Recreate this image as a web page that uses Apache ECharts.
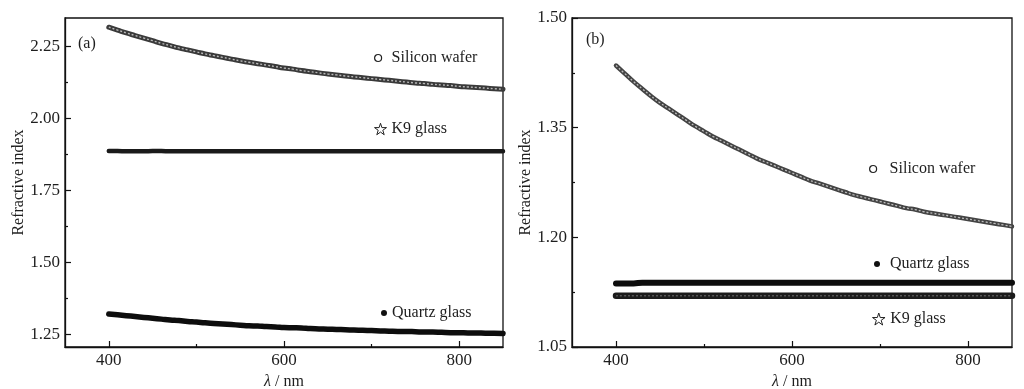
<!DOCTYPE html>
<html>
<head>
<meta charset="utf-8">
<script src="https://cdn.jsdelivr.net/npm/echarts@6/dist/echarts.min.js"></script>
<style>
html,body{margin:0;padding:0;background:#fff;}
#chart{width:1024px;height:389px;}
</style>
</head>
<body>
<div id="chart"></div>
<script>
// ---- data ----
const wavelength = [400,410,420,430,440,450,460,470,480,490,
  500,510,520,530,540,550,560,570,580,590,
  600,610,620,630,640,650,660,670,680,690,
  700,710,720,730,740,750,760,770,780,790,
  800,810,820,830,840,850];

// panel (a)
const siliconA = [2.318,2.308,2.298,2.289,2.280,2.271,2.262,2.254,2.246,2.239,
  2.232,2.225,2.219,2.213,2.207,2.201,2.196,2.191,2.186,2.181,
  2.176,2.172,2.167,2.163,2.159,2.155,2.152,2.148,2.145,2.142,
  2.139,2.136,2.133,2.130,2.127,2.124,2.122,2.119,2.117,2.115,
  2.112,2.110,2.108,2.106,2.104,2.102];
const k9A = [1.887,1.887,1.886,1.886,1.886,1.887,1.887,1.886,1.886,1.886,
  1.886,1.886,1.886,1.886,1.886,1.886,1.886,1.886,1.886,1.886,
  1.886,1.886,1.886,1.886,1.886,1.886,1.886,1.886,1.886,1.886,
  1.886,1.886,1.886,1.886,1.886,1.886,1.886,1.886,1.886,1.886,
  1.886,1.886,1.886,1.886,1.886,1.886];
const quartzA = [1.320,1.317,1.314,1.311,1.308,1.305,1.302,1.299,1.297,1.294,
  1.292,1.289,1.287,1.285,1.283,1.281,1.279,1.278,1.276,1.275,
  1.273,1.272,1.271,1.269,1.268,1.267,1.266,1.265,1.264,1.263,
  1.262,1.261,1.260,1.259,1.259,1.258,1.257,1.257,1.256,1.255,
  1.255,1.254,1.254,1.253,1.253,1.252];

// panel (b)
const siliconB = [1.435,1.424,1.413,1.403,1.393,1.384,1.376,1.368,1.360,1.352,
  1.345,1.338,1.332,1.326,1.320,1.314,1.308,1.303,1.298,1.293,
  1.288,1.283,1.278,1.274,1.270,1.266,1.262,1.258,1.255,1.252,
  1.249,1.246,1.243,1.240,1.238,1.235,1.233,1.231,1.229,1.227,
  1.225,1.223,1.221,1.219,1.217,1.215];
const quartzB = [1.137,1.137,1.137,1.138,1.138,1.138,1.138,1.138,1.138,1.138,
  1.138,1.138,1.138,1.138,1.138,1.138,1.138,1.138,1.138,1.138,
  1.138,1.138,1.138,1.138,1.138,1.138,1.138,1.138,1.138,1.138,
  1.138,1.138,1.138,1.138,1.138,1.138,1.138,1.138,1.138,1.138,
  1.138,1.138,1.138,1.138,1.138,1.138];
const k9B = [1.120,1.120,1.120,1.120,1.120,1.120,1.120,1.120,1.120,1.120,
  1.120,1.120,1.120,1.120,1.120,1.120,1.120,1.120,1.120,1.120,
  1.120,1.120,1.120,1.120,1.120,1.120,1.120,1.120,1.120,1.120,
  1.120,1.120,1.120,1.120,1.120,1.120,1.120,1.120,1.120,1.120,
  1.120,1.120,1.120,1.120,1.120,1.120];

// ticks
const xMajorTicks = [400,600,800];
const xMinorTicks = [500,700];
const yMajorTicksA = [1.25,1.50,1.75,2.00,2.25];
const yMinorTicksA = [1.375,1.625,1.875,2.125];
const yMajorTicksB = [1.05,1.20,1.35,1.50];
const yMinorTicksB = [1.125,1.275,1.425];

const FONT = '"Liberation Serif","Times New Roman",serif';
const TXT = '#1e1e1e';
const STAR = 'path://M50,2 L61,36 L97,36 L68,57 L79,92 L50,71 L21,92 L32,57 L3,36 L39,36 Z';

const pairs = arr => wavelength.map((w,i)=>[w, arr[i]]);

function xAxes(grid){
  return [
    {type:'value', gridIndex:grid, min:350, max:850, position:'bottom',
     axisLine:{show:true, onZero:false, lineStyle:{color:'#111', width:1.3}},
     axisTick:{show:true, inside:true, length:6, customValues:xMajorTicks, lineStyle:{color:'#111', width:1.2}},
     axisLabel:{show:true, customValues:xMajorTicks, margin:5, fontFamily:FONT, fontSize:17, color:TXT},
     splitLine:{show:false},
     name:'{i|λ} / nm', nameLocation:'middle', nameGap:20,
     nameTextStyle:{fontFamily:FONT, fontSize:16, color:TXT, rich:{i:{fontStyle:'italic', fontFamily:FONT, fontSize:16, color:TXT}}}},
    {type:'value', gridIndex:grid, min:350, max:850, position:'bottom',
     axisLine:{show:false},
     axisTick:{show:true, inside:true, length:3, customValues:xMinorTicks, lineStyle:{color:'#111', width:1.2}},
     axisLabel:{show:false}, splitLine:{show:false}}
  ];
}
function yAxes(grid, min, max, major, minor, gap){
  return [
    {type:'value', gridIndex:grid, min:min, max:max, position:'left',
     axisLine:{show:true, onZero:false, lineStyle:{color:'#111', width:1.3}},
     axisTick:{show:true, inside:true, length:6, customValues:major, lineStyle:{color:'#111', width:1.2}},
     axisLabel:{show:true, customValues:major, margin:5, fontFamily:FONT, fontSize:17, color:TXT,
       formatter:v=>Number(v).toFixed(2)},
     splitLine:{show:false},
     name:'Refractive index', nameLocation:'middle', nameGap:gap,
     nameTextStyle:{fontFamily:FONT, fontSize:16, color:TXT}},
    {type:'value', gridIndex:grid, min:min, max:max, position:'left',
     axisLine:{show:false},
     axisTick:{show:true, inside:true, length:3, customValues:minor, lineStyle:{color:'#111', width:1.2}},
     axisLabel:{show:false}, splitLine:{show:false}}
  ];
}

function band(name, data, xi, yi, width, color, z){
  return {type:'line', name:name, xAxisIndex:xi, yAxisIndex:yi, data:pairs(data),
    smooth:true, symbol:'none', silent:true, z:z||2,
    lineStyle:{width:width, color:color, cap:'round'}, itemStyle:{color:color}};
}
function texture(name, data, xi, yi, width, color){
  return {type:'line', name:name, xAxisIndex:xi, yAxisIndex:yi, data:pairs(data),
    smooth:true, symbol:'none', silent:true, z:3,
    lineStyle:{width:width, color:color, type:[2,2]}, itemStyle:{color:color}};
}

const circleItem = {name:'Silicon wafer', icon:'circle', itemStyle:{color:'#fff', borderColor:'#222', borderWidth:1.2}};
const dotItem = {name:'Quartz glass', icon:'circle', itemStyle:{color:'#111', borderWidth:0}};
const starItem = {name:'K9 glass', icon:STAR, itemStyle:{color:'#fff', borderColor:'#222', borderWidth:1}};

function leg(item, left, top, w, h, pad){
  return {data:[item], left:left, top:top, padding:0, itemWidth:w, itemHeight:h, selectedMode:false,
    textStyle:{fontFamily:FONT, fontSize:16, color:TXT, padding:[0,0,0,pad||0]}};
}

const option = {
  backgroundColor:'#fff',
  animation:false,
  title:[
    {text:'(a)', left:78, top:36, padding:0, textStyle:{fontFamily:FONT, fontSize:16, fontWeight:'normal', color:TXT}},
    {text:'(b)', left:586, top:32, padding:0, textStyle:{fontFamily:FONT, fontSize:16, fontWeight:'normal', color:TXT}}
  ],
  grid:[
    {left:65, top:18, width:438, height:329, show:true, borderColor:'#111', borderWidth:1.3,
     backgroundColor:'transparent', outerBoundsMode:'none', containLabel:false},
    {left:572, top:18, width:440, height:329, show:true, borderColor:'#111', borderWidth:1.3,
     backgroundColor:'transparent', outerBoundsMode:'none', containLabel:false}
  ],
  xAxis:[...xAxes(0), ...xAxes(1)],
  yAxis:[...yAxes(0, 1.205, 2.35, yMajorTicksA, yMinorTicksA, 38),
         ...yAxes(1, 1.05, 1.50, yMajorTicksB, yMinorTicksB, 34)],
  legend:[
    leg(circleItem, 374, 50, 7, 7, 5),
    leg(starItem, 374, 121, 12, 12, 0),
    leg(dotItem, 381, 305, 6, 6, 0),
    leg(circleItem, 869, 161, 7, 7, 8),
    leg(dotItem, 874, 256, 6, 6, 5),
    leg(starItem, 872, 311, 13, 12, 0)
  ],
  series:[
    band('Silicon wafer', siliconA, 0, 0, 5, '#3a3a3a'),
    texture('Silicon wafer', siliconA, 0, 0, 1.4, '#b8b8b8'),
    band('K9 glass', k9A, 0, 0, 4.5, '#1a1a1a'),
    band('Quartz glass', quartzA, 0, 0, 5.5, '#0d0d0d'),
    band('Silicon wafer', siliconB, 2, 2, 4.5, '#444'),
    texture('Silicon wafer', siliconB, 2, 2, 1.3, '#bdbdbd'),
    band('Quartz glass', quartzB, 2, 2, 6, '#0d0d0d'),
    band('K9 glass', k9B, 2, 2, 6.5, '#1c1c1c'),
    texture('K9 glass', k9B, 2, 2, 1, '#777')
  ]
};

const chart = echarts.init(document.getElementById('chart'), null, {renderer:'canvas'});
chart.setOption(option);
</script>
</body>
</html>
